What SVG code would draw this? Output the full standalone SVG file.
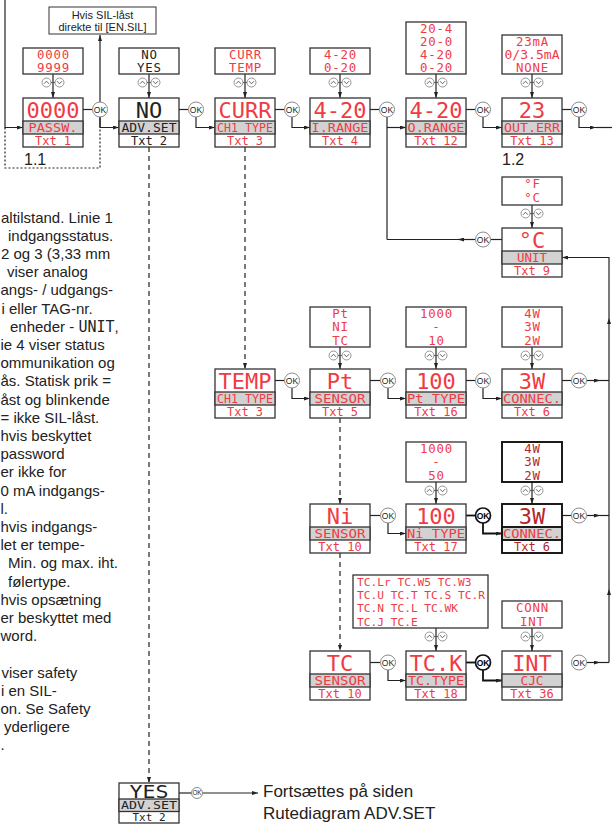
<svg xmlns="http://www.w3.org/2000/svg" width="612" height="834" viewBox="0 0 612 834">
<defs>
<style>
.box{fill:#fff;stroke:#333;stroke-width:1.3}
.band{fill:#d2d2d2;stroke:#333;stroke-width:1.3}
.dk .box,.dk .band{stroke:#111;stroke-width:1.9}
.lcd{font-family:"DejaVu Sans Mono","Liberation Mono",monospace;text-anchor:middle;fill:#ef3b44}
.v{font-size:22px}
.l{font-size:11.5px}
.t{font-size:12px}
.o{font-size:12.4px;letter-spacing:0.8px}
.tcl{font-family:"DejaVu Sans Mono","Liberation Mono",monospace;font-size:11.2px;fill:#ef3b44}
.blk{fill:#222}
.dkt{fill:#b3262c}
.ln{fill:none;stroke:#222;stroke-width:1.2}
.bold{stroke-width:1.8;stroke:#111}
.dash{stroke-dasharray:5 4}
.dot{stroke-dasharray:2 2}
.note{font-family:"Liberation Sans",Arial,sans-serif;font-size:15px;fill:#222}
.mono{font-family:"DejaVu Sans Mono","Liberation Mono",monospace}
.okc{fill:#fff;stroke:#8a8a8a;stroke-width:1}
.okb{fill:#fff;stroke:#111;stroke-width:1.7}
.okt{font-family:"Liberation Sans",Arial,sans-serif;font-size:8.5px;text-anchor:middle;fill:#222}
.okbt{font-family:"Liberation Sans",Arial,sans-serif;font-size:8.5px;text-anchor:middle;fill:#000;font-weight:bold}
.udc{fill:#fff;stroke:#8a8a8a;stroke-width:0.9}
.udv{fill:none;stroke:#555;stroke-width:0.9}
.sans{font-family:"Liberation Sans",Arial,sans-serif;fill:#222}
</style>
<marker id="ah" viewBox="0 0 6 4" refX="6" refY="2" markerWidth="6" markerHeight="4" markerUnits="userSpaceOnUse" orient="auto"><path d="M0,0 L6,2 L0,4 z" fill="#222"/></marker>
<g id="ud"><circle class="udc" cx="-6.5" cy="0" r="4.5"/><circle class="udc" cx="6.5" cy="0" r="4.5"/><path class="udv" d="M-9,1.3 L-6.5,-1.3 L-4,1.3 M4,-1.3 L6.5,1.3 L9,-1.3 M-2,0 H2"/></g>
</defs>
<rect width="612" height="834" fill="#fff"/>

<!-- left notes (continuation of a column that runs off the page) -->
<g id="notes" class="note">
<text x="1" y="222.6">altilstand. Linie 1</text>
<text x="8" y="240.8">indgangsstatus.</text>
<text x="1" y="259">2 og 3 (3,33 mm</text>
<text x="7" y="277.2">viser analog</text>
<text x="0.5" y="295.4">angs- / udgangs-</text>
<text x="1.5" y="313.6">i eller TAG-nr.</text>
<text x="10" y="331.8">enheder - <tspan class="mono">UNIT</tspan>,</text>
<text x="0.5" y="350">ie 4 viser status</text>
<text x="0.5" y="368.2">ommunikation og</text>
<text x="0.5" y="386.4">ås. Statisk prik =</text>
<text x="0.5" y="404.6">åst og blinkende</text>
<text x="0.5" y="422.8">= ikke SIL-låst.</text>
<text x="0.5" y="441">hvis beskyttet</text>
<text x="0.5" y="459.2">password</text>
<text x="0.5" y="477.4">er ikke for</text>
<text x="0.5" y="495.6">0 mA indgangs-</text>
<text x="0.5" y="513.8">l.</text>
<text x="0.5" y="532">hvis indgangs-</text>
<text x="0.5" y="550.2">let er tempe-</text>
<text x="8" y="568.4">Min. og max. iht.</text>
<text x="8" y="586.6">følertype.</text>
<text x="0.5" y="604.8">hvis opsætning</text>
<text x="0.5" y="623">er beskyttet med</text>
<text x="0.5" y="641.2">word.</text>
<text x="1.5" y="677.6">viser safety</text>
<text x="1" y="695.8">i en SIL-</text>
<text x="0.5" y="714">on. Se Safety</text>
<text x="4" y="732.2">yderligere</text>
<text x="0.5" y="750.4">.</text>
</g>

<!-- connectors -->
<g id="connectors" class="ln">
<path d="M5,0 V127.5 H23" marker-end="url(#ah)"/>
<path class="dot" d="M5,127.5 V168 H100 V127.5"/>
<path d="M83,109.5 H92.5"/>
<path d="M100,117 V127.5 H119" marker-end="url(#ah)"/>
<path d="M100,127.5 V35" marker-end="url(#ah)"/>
<path d="M179,109.5 H188.5"/>
<path d="M196,117 V127.5 H215" marker-end="url(#ah)"/>
<path d="M275,109.5 H284.5"/>
<path d="M292,117 V127.5 H310" marker-end="url(#ah)"/>
<path d="M370,109.5 H379.5"/>
<path d="M387,117 V239.5"/>
<path d="M387,127.5 H406" marker-end="url(#ah)"/>
<path d="M466,109.5 H475.5"/>
<path d="M483,117 V127.5 H502" marker-end="url(#ah)"/>
<path d="M562,109.5 H571.5"/>
<path d="M579,117 V127.5 H596" marker-end="url(#ah)"/>
<path d="M596,127.5 H612"/>
<path d="M502,239.5 H490.5"/>
<path d="M475.5,239.5 H458" marker-end="url(#ah)"/>
<path d="M458,239.5 H387"/>
<path d="M609,662.5 V589" marker-end="url(#ah)"/>
<path d="M609,589 V318" marker-end="url(#ah)"/>
<path d="M609,318 V257.5 H562" marker-end="url(#ah)"/>
<path d="M275,380.5 H284.5"/>
<path d="M292,388 V398.5 H310" marker-end="url(#ah)"/>
<path d="M370,380.5 H380.5"/>
<path d="M388,388 V398.5 H406" marker-end="url(#ah)"/>
<path d="M466,380.5 H475.5"/>
<path d="M483,388 V398.5 H502" marker-end="url(#ah)"/>
<path d="M562,380.5 H571.5"/>
<path d="M586.5,380.5 H600" marker-end="url(#ah)"/>
<path d="M600,380.5 H609"/>
<path d="M370,515.5 H380.5"/>
<path d="M388,523 V533.5 H406" marker-end="url(#ah)"/>
<path class="bold" d="M466,515.5 H475.5"/>
<path class="bold" d="M483,523 V533.5 H502" marker-end="url(#ah)"/>
<path d="M562,515.5 H571.5"/>
<path d="M586.5,515.5 H600" marker-end="url(#ah)"/>
<path d="M600,515.5 H609"/>
<path d="M370,662.5 H380.5"/>
<path d="M388,670 V680.5 H406" marker-end="url(#ah)"/>
<path class="bold" d="M466,662.5 H475.5"/>
<path class="bold" d="M483,670 V680.5 H502" marker-end="url(#ah)"/>
<path d="M586.5,662.5 H600" marker-end="url(#ah)"/>
<path d="M600,662.5 H609"/>
<path class="dash" d="M149,147 V783" marker-end="url(#ah)"/>
<path class="dash" d="M245,147 V369" marker-end="url(#ah)"/>
<path class="dash" d="M340,418 V504" marker-end="url(#ah)"/>
<path class="dash" d="M340,553 V651" marker-end="url(#ah)"/>
<path d="M53,74 V98" marker-end="url(#ah)"/>
<path d="M149,74 V98" marker-end="url(#ah)"/>
<path d="M245,74 V98" marker-end="url(#ah)"/>
<path d="M340,74 V98" marker-end="url(#ah)"/>
<path d="M436,74 V98" marker-end="url(#ah)"/>
<path d="M532,74 V98" marker-end="url(#ah)"/>
<path d="M532,205 V228" marker-end="url(#ah)"/>
<path d="M340,347 V369" marker-end="url(#ah)"/>
<path d="M436,347 V369" marker-end="url(#ah)"/>
<path d="M532,347 V369" marker-end="url(#ah)"/>
<path d="M436,482 V504" marker-end="url(#ah)"/>
<path d="M532,482 V504" marker-end="url(#ah)"/>
<path d="M436,628 V651" marker-end="url(#ah)"/>
<path d="M532,628 V651" marker-end="url(#ah)"/>
<path d="M179,793 H191.5"/>
<path d="M202.5,793 H258" marker-end="url(#ah)"/>
</g>

<!-- up/down keys -->
<g id="keys">
<use href="#ud" x="53" y="82.5"/><use href="#ud" x="149" y="82.5"/><use href="#ud" x="245" y="82.5"/>
<use href="#ud" x="340" y="82.5"/><use href="#ud" x="436" y="82.5"/><use href="#ud" x="532" y="82.5"/>
<use href="#ud" x="532" y="213.5"/>
<use href="#ud" x="340" y="355.5"/><use href="#ud" x="436" y="355.5"/><use href="#ud" x="532" y="355.5"/>
<use href="#ud" x="436" y="490.5"/><use href="#ud" x="532" y="490.5"/>
<use href="#ud" x="436" y="636.5"/><use href="#ud" x="532" y="636.5"/>
</g>

<!-- OK buttons -->
<g id="ok-buttons">
<circle class="okc" cx="100" cy="109.5" r="7.5"/><text class="okt" x="100" y="112.5">OK</text>
<circle class="okc" cx="196" cy="109.5" r="7.5"/><text class="okt" x="196" y="112.5">OK</text>
<circle class="okc" cx="292" cy="109.5" r="7.5"/><text class="okt" x="292" y="112.5">OK</text>
<circle class="okc" cx="387" cy="109.5" r="7.5"/><text class="okt" x="387" y="112.5">OK</text>
<circle class="okc" cx="483" cy="109.5" r="7.5"/><text class="okt" x="483" y="112.5">OK</text>
<circle class="okc" cx="579" cy="109.5" r="7.5"/><text class="okt" x="579" y="112.5">OK</text>
<circle class="okc" cx="483" cy="239.5" r="7.5"/><text class="okt" x="483" y="242.5">OK</text>
<circle class="okc" cx="292" cy="380.5" r="7.5"/><text class="okt" x="292" y="383.5">OK</text>
<circle class="okc" cx="388" cy="380.5" r="7.5"/><text class="okt" x="388" y="383.5">OK</text>
<circle class="okc" cx="483" cy="380.5" r="7.5"/><text class="okt" x="483" y="383.5">OK</text>
<circle class="okc" cx="579" cy="380.5" r="7.5"/><text class="okt" x="579" y="383.5">OK</text>
<circle class="okc" cx="388" cy="515.5" r="7.5"/><text class="okt" x="388" y="518.5">OK</text>
<circle class="okb" cx="483" cy="515.5" r="7.5"/><text class="okbt" x="483" y="518.5">OK</text>
<circle class="okc" cx="579" cy="515.5" r="7.5"/><text class="okt" x="579" y="518.5">OK</text>
<circle class="okc" cx="388" cy="662.5" r="7.5"/><text class="okt" x="388" y="665.5">OK</text>
<circle class="okb" cx="483" cy="662.5" r="7.5"/><text class="okbt" x="483" y="665.5">OK</text>
<circle class="okc" cx="579" cy="662.5" r="7.5"/><text class="okt" x="579" y="665.5">OK</text>
<circle class="okc" cx="197" cy="793" r="5.5"/><text class="okt" x="197" y="795.2" style="font-size:6.3px">OK</text>
</g>

<!-- SIL note box -->
<g id="sil-box">
<rect x="49" y="7" width="107" height="27" fill="#fff" stroke="#333" stroke-width="1"/>
<text class="sans" x="102.5" y="19" font-size="11" text-anchor="middle">Hvis SIL-låst</text>
<text class="sans" x="102.5" y="30.5" font-size="11" text-anchor="middle">direkte til [EN.SIL]</text>
</g>
<text class="sans" x="24" y="165" font-size="16">1.1</text>
<text class="sans" x="502" y="165" font-size="16">1.2</text>

<!-- option lists -->
<g id="opt-passw"><rect class="box" x="23" y="48" width="60" height="26"/>
<text class="lcd o" x="53.4" y="58.7">0000</text><text class="lcd o" x="53.4" y="71.7">9999</text></g>
<g id="opt-advset"><rect class="box" x="119" y="48" width="60" height="26"/>
<text class="lcd o blk" x="149.4" y="58.7">NO</text><text class="lcd o blk" x="149.4" y="71.7">YES</text></g>
<g id="opt-ch1type"><rect class="box" x="215" y="48" width="60" height="26"/>
<text class="lcd o" x="245.4" y="58.7">CURR</text><text class="lcd o" x="245.4" y="71.7">TEMP</text></g>
<g id="opt-irange"><rect class="box" x="310" y="48" width="60" height="26"/>
<text class="lcd o" x="340.4" y="58.7">4-20</text><text class="lcd o" x="340.4" y="71.7">0-20</text></g>
<g id="opt-orange"><rect class="box" x="406" y="22" width="60" height="52"/>
<text class="lcd o" x="436.4" y="32.7">20-4</text><text class="lcd o" x="436.4" y="45.7">20-0</text><text class="lcd o" x="436.4" y="58.7">4-20</text><text class="lcd o" x="436.4" y="71.7">0-20</text></g>
<g id="opt-outerr"><rect class="box" x="502" y="35" width="60" height="39"/>
<text class="lcd o" x="532.4" y="45.7">23mA</text><text class="lcd o" x="532" y="58.7" style="letter-spacing:0" textLength="55" lengthAdjust="spacingAndGlyphs">0/3.5mA</text><text class="lcd o" x="532.4" y="71.7">NONE</text></g>
<g id="opt-unit"><rect class="box" x="502" y="177" width="60" height="28"/>
<text class="lcd o" x="532.4" y="188.2">°F</text><text class="lcd o" x="532.4" y="202.2">°C</text></g>
<g id="opt-sensor"><rect class="box" x="310" y="307" width="60" height="40"/>
<text class="lcd o" x="340.4" y="317.9">Pt</text><text class="lcd o" x="340.4" y="331.2">NI</text><text class="lcd o" x="340.4" y="344.5">TC</text></g>
<g id="opt-pttype"><rect class="box" x="406" y="307" width="60" height="40"/>
<text class="lcd o" x="436.4" y="317.9">1000</text><text class="lcd o" x="436.4" y="331.2">-</text><text class="lcd o" x="436.4" y="344.5">10</text></g>
<g id="opt-connec-pt"><rect class="box" x="502" y="307" width="60" height="40"/>
<text class="lcd o" x="532.4" y="317.9">4W</text><text class="lcd o" x="532.4" y="331.2">3W</text><text class="lcd o" x="532.4" y="344.5">2W</text></g>
<g id="opt-nitype"><rect class="box" x="406" y="442" width="60" height="40"/>
<text class="lcd o" x="436.4" y="452.9">1000</text><text class="lcd o" x="436.4" y="466.2">-</text><text class="lcd o" x="436.4" y="479.5">50</text></g>
<g id="opt-connec-ni" class="dk"><rect class="box" x="502" y="442" width="60" height="40"/>
<text class="lcd o dkt" x="532.4" y="452.9">4W</text><text class="lcd o dkt" x="532.4" y="466.2">3W</text><text class="lcd o dkt" x="532.4" y="479.5">2W</text></g>
<g id="opt-tctype"><rect class="box" x="353" y="575" width="135" height="53"/>
<text class="tcl" x="357" y="585.8">TC.Lr TC.W5 TC.W3</text>
<text class="tcl" x="357" y="599">TC.U TC.T TC.S TC.R</text>
<text class="tcl" x="357" y="612.3">TC.N TC.L TC.WK</text>
<text class="tcl" x="357" y="625.5">TC.J TC.E</text></g>
<g id="opt-cjc"><rect class="box" x="502" y="601" width="60" height="27"/>
<text class="lcd o" x="532.4" y="612">CONN</text><text class="lcd o" x="532.4" y="625.5">INT</text></g>

<!-- display nodes -->
<g id="n-passw"><rect class="box" x="23" y="98" width="60" height="49"/><rect class="band" x="23" y="121" width="60" height="13"/>
<text class="lcd v" x="53" y="117.5">0000</text><text class="lcd l" x="53" y="131.5" textLength="49" lengthAdjust="spacingAndGlyphs">PASSW.</text><text class="lcd t" x="53" y="144.5">Txt 1</text></g>
<g id="n-advset"><rect class="box" x="119" y="98" width="60" height="49"/><rect class="band" x="119" y="121" width="60" height="13"/>
<text class="lcd v blk" x="149" y="117.5">NO</text><text class="lcd l blk" x="149" y="131.5" textLength="55" lengthAdjust="spacingAndGlyphs">ADV.SET</text><text class="lcd t blk" x="149" y="144.5">Txt 2</text></g>
<g id="n-ch1type"><rect class="box" x="215" y="98" width="60" height="49"/><rect class="band" x="215" y="121" width="60" height="13"/>
<text class="lcd v" x="245" y="117.5">CURR</text><text class="lcd l" x="245" y="131.5" textLength="56" lengthAdjust="spacingAndGlyphs">CH1 TYPE</text><text class="lcd t" x="245" y="144.5">Txt 3</text></g>
<g id="n-irange"><rect class="box" x="310" y="98" width="60" height="49"/><rect class="band" x="310" y="121" width="60" height="13"/>
<text class="lcd v" x="340" y="117.5">4-20</text><text class="lcd l" x="340" y="131.5" textLength="57" lengthAdjust="spacingAndGlyphs">I.RANGE</text><text class="lcd t" x="340" y="144.5">Txt 4</text></g>
<g id="n-orange"><rect class="box" x="406" y="98" width="60" height="49"/><rect class="band" x="406" y="121" width="60" height="13"/>
<text class="lcd v" x="436" y="117.5">4-20</text><text class="lcd l" x="436" y="131.5" textLength="57" lengthAdjust="spacingAndGlyphs">O.RANGE</text><text class="lcd t" x="436" y="144.5">Txt 12</text></g>
<g id="n-outerr"><rect class="box" x="502" y="98" width="60" height="49"/><rect class="band" x="502" y="121" width="60" height="13"/>
<text class="lcd v" x="532" y="117.5">23</text><text class="lcd l" x="532" y="131.5" textLength="56" lengthAdjust="spacingAndGlyphs">OUT.ERR</text><text class="lcd t" x="532" y="144.5">Txt 13</text></g>
<g id="n-unit"><rect class="box" x="502" y="228" width="60" height="49"/><rect class="band" x="502" y="251" width="60" height="13"/>
<text class="lcd v" x="532" y="247.5">°C</text><text class="lcd l" x="532" y="261.5" textLength="30" lengthAdjust="spacingAndGlyphs">UNIT</text><text class="lcd t" x="532" y="274.5">Txt 9</text></g>
<g id="n-temp"><rect class="box" x="215" y="369" width="60" height="49"/><rect class="band" x="215" y="392" width="60" height="13"/>
<text class="lcd v" x="245" y="388.5">TEMP</text><text class="lcd l" x="245" y="402.5" textLength="56" lengthAdjust="spacingAndGlyphs">CH1 TYPE</text><text class="lcd t" x="245" y="415.5">Txt 3</text></g>
<g id="n-sensor-pt"><rect class="box" x="310" y="369" width="60" height="49"/><rect class="band" x="310" y="392" width="60" height="13"/>
<text class="lcd v" x="340" y="388.5">Pt</text><text class="lcd l" x="340" y="402.5" textLength="51" lengthAdjust="spacingAndGlyphs">SENSOR</text><text class="lcd t" x="340" y="415.5">Txt 5</text></g>
<g id="n-pttype"><rect class="box" x="406" y="369" width="60" height="49"/><rect class="band" x="406" y="392" width="60" height="13"/>
<text class="lcd v" x="436" y="388.5">100</text><text class="lcd l" x="436" y="402.5" textLength="58" lengthAdjust="spacingAndGlyphs">Pt TYPE</text><text class="lcd t" x="436" y="415.5">Txt 16</text></g>
<g id="n-connec-pt"><rect class="box" x="502" y="369" width="60" height="49"/><rect class="band" x="502" y="392" width="60" height="13"/>
<text class="lcd v" x="532" y="388.5">3W</text><text class="lcd l" x="532" y="402.5" textLength="58" lengthAdjust="spacingAndGlyphs">CONNEC.</text><text class="lcd t" x="532" y="415.5">Txt 6</text></g>
<g id="n-sensor-ni"><rect class="box" x="310" y="504" width="60" height="49"/><rect class="band" x="310" y="527" width="60" height="13"/>
<text class="lcd v" x="340" y="523.5">Ni</text><text class="lcd l" x="340" y="537.5" textLength="51" lengthAdjust="spacingAndGlyphs">SENSOR</text><text class="lcd t" x="340" y="550.5">Txt 10</text></g>
<g id="n-nitype"><rect class="box" x="406" y="504" width="60" height="49"/><rect class="band" x="406" y="527" width="60" height="13"/>
<text class="lcd v" x="436" y="523.5">100</text><text class="lcd l" x="436" y="537.5" textLength="58" lengthAdjust="spacingAndGlyphs">Ni TYPE</text><text class="lcd t" x="436" y="550.5">Txt 17</text></g>
<g id="n-connec-ni" class="dk"><rect class="box" x="502" y="504" width="60" height="49"/><rect class="band" x="502" y="527" width="60" height="13"/>
<text class="lcd v dkt" x="532" y="523.5">3W</text><text class="lcd l" x="532" y="537.5" textLength="58" lengthAdjust="spacingAndGlyphs">CONNEC.</text><text class="lcd t dkt" x="532" y="550.5">Txt 6</text></g>
<g id="n-sensor-tc"><rect class="box" x="310" y="651" width="60" height="49"/><rect class="band" x="310" y="674" width="60" height="13"/>
<text class="lcd v" x="340" y="670.5">TC</text><text class="lcd l" x="340" y="684.5" textLength="51" lengthAdjust="spacingAndGlyphs">SENSOR</text><text class="lcd t" x="340" y="697.5">Txt 10</text></g>
<g id="n-tctype"><rect class="box" x="406" y="651" width="60" height="49"/><rect class="band" x="406" y="674" width="60" height="13"/>
<text class="lcd v" x="436" y="670.5">TC.K</text><text class="lcd l" x="436" y="684.5" textLength="56" lengthAdjust="spacingAndGlyphs">TC.TYPE</text><text class="lcd t" x="436" y="697.5">Txt 18</text></g>
<g id="n-cjc"><rect class="box" x="502" y="651" width="60" height="49"/><rect class="band" x="502" y="674" width="60" height="13"/>
<text class="lcd v" x="532" y="670.5">INT</text><text class="lcd l" x="532" y="684.5" textLength="23" lengthAdjust="spacingAndGlyphs">CJC</text><text class="lcd t" x="532" y="697.5">Txt 36</text></g>
<g id="n-yes"><rect class="box" x="119" y="783" width="60" height="40"/><rect class="band" x="119" y="799" width="60" height="12.5"/>
<text class="lcd blk" x="149" y="797.5" font-size="18" textLength="39" lengthAdjust="spacingAndGlyphs">YES</text><text class="lcd blk" x="149" y="809.3" font-size="11" textLength="56" lengthAdjust="spacingAndGlyphs">ADV.SET</text><text class="lcd blk" x="149" y="821" font-size="11">Txt 2</text></g>

<g id="continue-note">
<text class="sans" x="263" y="797" font-size="17">Fortsættes på siden</text>
<text class="sans" x="263" y="819" font-size="17">Rutediagram ADV.SET</text>
</g>
</svg>
